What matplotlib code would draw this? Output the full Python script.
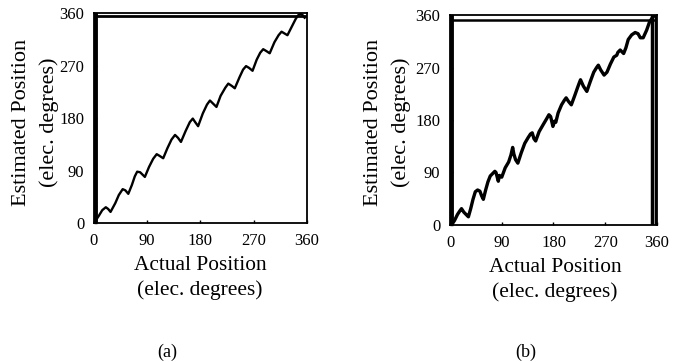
import matplotlib
matplotlib.use('Agg')
import matplotlib.pyplot as plt

plt.rcParams['font.family'] = ['Liberation Serif', 'DejaVu Serif']

# panel (a): estimated vs actual position (elec. degrees)
actual_a = [2, 8, 14, 20, 24, 28, 36, 42, 48.5, 53, 58, 64, 69, 73, 78, 86,
            93, 100, 106, 111, 117, 124, 131, 137, 142, 147, 155, 162, 167,
            171, 176, 184, 191, 196, 201, 207, 214, 222, 227, 233, 238, 246,
            252, 257, 262, 268, 275, 281, 286, 291, 297, 305, 312, 317, 322,
            327, 335, 341, 345, 349, 353, 356]
est_a = [3, 12, 22, 27, 24, 19, 34, 48, 58, 56, 50, 65, 80, 88, 87, 79,
         96, 110, 118, 115, 111, 128, 143, 151, 146, 139, 158, 173, 179,
         173, 166, 188, 203, 210, 205, 199, 218, 232, 239, 235, 231, 250,
         263, 269, 266, 261, 280, 292, 298, 295, 291, 310, 322, 328, 325,
         322, 338, 350, 356, 359, 356, 352]

# panel (b)
actual_b = [4, 8, 13, 17, 20, 24, 28, 32, 36, 40, 44, 48, 52, 55, 58, 62, 66,
            70, 75, 78, 80, 84, 86, 90, 96, 102, 106, 109, 111, 114, 118, 124,
            130, 136, 140, 143, 146, 149, 155, 162, 168, 172, 175, 179, 182,
            184, 188, 194, 199, 202, 206, 211, 217, 222, 225, 227, 232, 238,
            244, 250, 255, 258, 262, 268, 273, 279, 285, 290, 292, 296, 302,
            306, 310, 316, 322, 327, 331, 336, 342, 347, 353, 357]
est_b = [2, 8, 18, 24, 28, 22, 18, 14, 28, 44, 57, 60, 58, 50, 44, 60, 74,
         84, 89, 92, 90, 75, 85, 82, 98, 108, 120, 133, 122, 112, 106, 124,
         140, 150, 156, 158, 148, 144, 160, 172, 182, 189, 186, 169, 178,
         176, 192, 206, 214, 218, 212, 206, 222, 236, 244, 249, 238, 229,
         246, 262, 270, 274, 266, 257, 262, 276, 288, 291, 296, 300, 294,
         304, 318, 326, 330, 328, 321, 321, 334, 348, 357, 359]

ticks = [0, 90, 180, 270, 360]

fig = plt.figure(figsize=(6.84, 3.62), dpi=100)
ax_a = fig.add_axes([0.1374, 0.384, 0.3114, 0.580])
ax_b = fig.add_axes([0.6579, 0.3785, 0.3026, 0.580])

for ax in (ax_a, ax_b):
    ax.set_xlim(0, 360)
    ax.set_ylim(0, 360)
    ax.set_xticks(ticks)
    ax.set_yticks(ticks)
    ax.tick_params(direction='in', length=2, width=1, labelsize=12, pad=7)
    for s in ax.spines.values():
        s.set_linewidth(1.3)

ax_a.plot(actual_a, est_a, color='black', lw=1.7)
ax_b.plot(actual_b, est_b, color='black', lw=2.4)

# frame artefacts of the original scans
ax_a.axhline(355, color='black', lw=2.0)
ax_a.axvline(1.5, color='black', lw=3.5)
ax_b.axhline(351, color='black', lw=1.8)
ax_b.axvline(1.5, color='black', lw=3.5)
ax_b.axvline(352, color='black', lw=2.5)
ax_b.axvline(358.5, color='black', lw=2.5)

fx = 15.4
fy = 16.0
fig.text(200 / 684, 1 - 265 / 362, 'Actual Position', ha='center', va='center', fontsize=fx)
fig.text(200 / 684, 1 - 290 / 362, '(elec. degrees)', ha='center', va='center', fontsize=fx)
fig.text(22 / 684, 1 - 122 / 362, 'Estimated Position', ha='center', va='center', fontsize=fy, rotation=90)
fig.text(49 / 684, 1 - 122 / 362, '(elec. degrees)', ha='center', va='center', fontsize=fy, rotation=90)

fig.text(555 / 684, 1 - 268 / 362, 'Actual Position', ha='center', va='center', fontsize=fx)
fig.text(555 / 684, 1 - 292 / 362, '(elec. degrees)', ha='center', va='center', fontsize=fx)
fig.text(374 / 684, 1 - 122 / 362, 'Estimated Position', ha='center', va='center', fontsize=fy, rotation=90)
fig.text(401 / 684, 1 - 122 / 362, '(elec. degrees)', ha='center', va='center', fontsize=fy, rotation=90)

fig.text(167 / 684, 1 - 352 / 362, '(a)', ha='center', va='center', fontsize=13)
fig.text(526 / 684, 1 - 352 / 362, '(b)', ha='center', va='center', fontsize=13)

fig.savefig('out.png', dpi=100)
